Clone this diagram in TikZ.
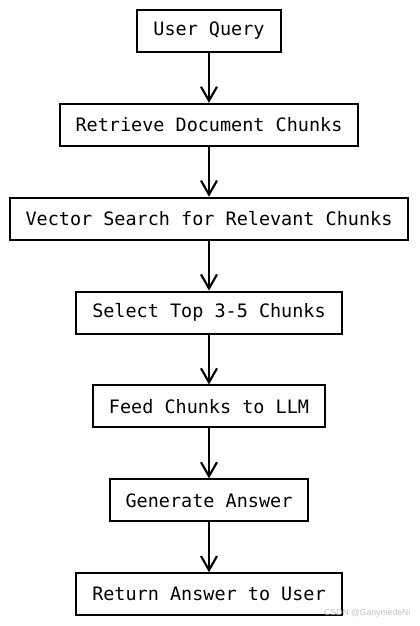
\documentclass[tikz,border=0pt]{standalone}
\usepackage{fontspec}
\setmonofont{DejaVu Sans Mono}
\newfontfamily\wmfont{Liberation Sans}
\usetikzlibrary{positioning,arrows.meta}

\begin{document}
\begin{tikzpicture}[>={Straight Barb[length=10.5pt,width=12pt,line width=1.6pt]},
  stepbox/.style={draw,line width=1.5pt,minimum height=31.5pt,inner xsep=12pt,
    font=\ttfamily\fontsize{13.85}{16}\selectfont},
  flow/.style={->,line width=1.8pt},
  node distance=37.4pt]
  \useasboundingbox (0,0) rectangle (314.25pt,469.5pt);
  \node[stepbox] (query) at (156.75pt,446.25pt) {User Query};
  \node[stepbox,below=of query] (retrieve) {Retrieve Document Chunks};
  \node[stepbox,below=of retrieve] (search) {Vector Search for Relevant Chunks};
  \node[stepbox,below=of search] (select) {Select Top 3-5 Chunks};
  \node[stepbox,below=of select] (feed) {Feed Chunks to LLM};
  \node[stepbox,below=of feed] (generate) {Generate Answer};
  \node[stepbox,below=of generate] (return) {Return Answer to User};
  \draw[flow] (query) -- (retrieve);
  \draw[flow] (retrieve) -- (search);
  \draw[flow] (search) -- (select);
  \draw[flow] (select) -- (feed);
  \draw[flow] (feed) -- (generate);
  \draw[flow] (generate) -- (return);
  % watermark
  \node[anchor=east,inner sep=0pt,text=black!25,font=\wmfont\fontsize{6.5}{7}\selectfont]
    (mark) at (308pt,9.5pt) {CSDN @GanymedeNi};
\end{tikzpicture}
\end{document}
